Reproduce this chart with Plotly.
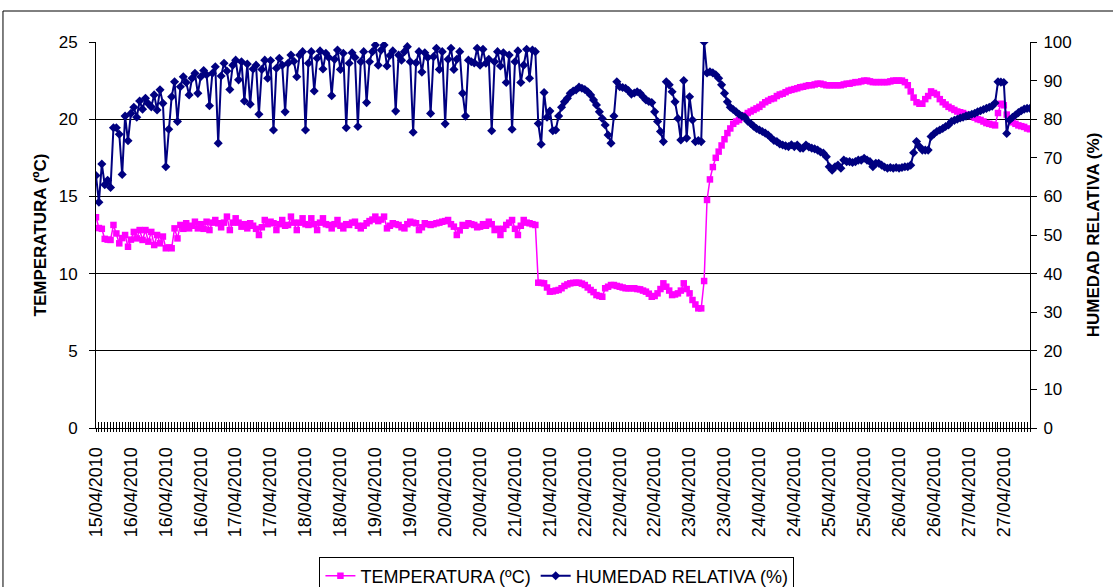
import plotly.graph_objects as go

# ---------------- data ----------------
date_labels = ["15/04/2010", "16/04/2010", "16/04/2010", "16/04/2010", "17/04/2010",
               "17/04/2010", "18/04/2010", "18/04/2010", "19/04/2010", "19/04/2010",
               "20/04/2010", "20/04/2010", "21/04/2010", "21/04/2010", "22/04/2010",
               "22/04/2010", "22/04/2010", "23/04/2010", "23/04/2010", "24/04/2010",
               "24/04/2010", "25/04/2010", "25/04/2010", "26/04/2010", "26/04/2010",
               "27/04/2010", "27/04/2010"]
label_step = 12

temperatura = [
    13.65, 12.95, 12.9, 12.25, 12.2, 12.18, 13.15, 12.6, 11.96, 12.3,
    12.5, 11.74, 12.2, 12.7, 12.28, 12.82, 12.18, 12.82, 12.07, 12.7,
    11.85, 12.5, 11.96, 12.4, 11.64, 11.7, 11.64, 12.93, 12.28, 13.15,
    12.9, 13.26, 12.93, 13.1, 13.36, 12.93, 13.2, 12.9, 13.36, 12.82,
    13.3, 13.47, 13.26, 13.0, 13.3, 13.69, 12.82, 13.3, 13.58, 13.3,
    13.04, 13.2, 12.93, 13.26, 13.1, 12.9, 12.5, 13.0, 13.47, 13.2,
    13.36, 13.26, 12.82, 13.2, 13.47, 13.1, 13.15, 13.69, 13.3, 12.82,
    13.3, 13.58, 13.2, 13.15, 13.58, 13.2, 12.82, 13.3, 13.58, 13.2,
    13.15, 12.93, 13.2, 13.47, 13.1, 12.93, 13.2, 13.15, 13.3, 13.36,
    13.1, 12.93, 13.1, 13.26, 13.4, 13.5, 13.69, 13.4, 13.5, 13.69,
    12.93, 13.1, 13.26, 13.2, 13.15, 13.0, 12.93, 13.2, 13.36, 13.3,
    13.26, 12.82, 13.0, 13.26, 13.2, 13.15, 13.2, 13.26, 13.3, 13.36,
    13.4, 13.47, 13.2, 13.04, 12.5, 12.8, 13.15, 13.1, 13.26, 13.2,
    13.15, 13.0, 13.04, 13.2, 13.1, 13.36, 13.2, 12.82, 12.9, 12.5,
    12.9, 13.15, 13.3, 13.47, 12.9, 12.5, 13.1, 13.47, 13.3, 13.26,
    13.2, 13.15, 9.41, 9.4, 9.37, 9.1, 8.83, 8.85, 8.9, 8.94,
    9.05, 9.2, 9.3, 9.37, 9.4, 9.41, 9.41, 9.35, 9.26, 9.1,
    8.94, 8.8, 8.61, 8.55, 8.5, 9.05, 9.15, 9.26, 9.26, 9.2,
    9.15, 9.1, 9.05, 9.05, 9.05, 9.05, 9.0, 8.98, 8.9, 8.83,
    8.7, 8.5, 8.55, 8.72, 9.0, 9.37, 9.15, 8.9, 8.61, 8.65,
    8.72, 8.9, 9.37, 9.0, 8.72, 8.29, 8.0, 7.75, 7.75, 9.52,
    14.77, 16.1, 16.9, 17.5, 17.9, 18.3, 18.7, 19.1, 19.4, 19.7,
    19.85, 19.95, 20.1, 20.25, 20.4, 20.5, 20.6, 20.7, 20.8, 20.95,
    21.1, 21.2, 21.3, 21.35, 21.5, 21.6, 21.65, 21.75, 21.85, 21.9,
    21.95, 22.0, 22.07, 22.1, 22.15, 22.2, 22.2, 22.25, 22.3, 22.3,
    22.25, 22.2, 22.2, 22.2, 22.2, 22.2, 22.2, 22.25, 22.3, 22.3,
    22.35, 22.4, 22.4, 22.45, 22.5, 22.5, 22.45, 22.4, 22.4, 22.4,
    22.4, 22.4, 22.4, 22.45, 22.5, 22.5, 22.5, 22.5, 22.4, 22.2,
    21.8, 21.4, 21.1, 21.0, 21.0, 21.3, 21.5, 21.8, 21.7, 21.6,
    21.3, 21.1, 20.95, 20.8, 20.7, 20.6, 20.5, 20.45, 20.4, 20.3,
    20.25, 20.2, 20.1, 20.0, 19.95, 19.85, 19.75, 19.7, 19.65, 19.6,
    20.4, 21.0, 20.9, 20.3, 20.0, 19.8, 19.7, 19.6, 19.55, 19.5,
    19.4, 19.35,
]

humedad = [
    65.4, 58.5, 68.4, 63.0, 64.2, 62.3, 77.8, 77.8, 76.1, 65.7,
    80.8, 74.4, 81.5, 83.1, 80.5, 84.7, 82.6, 85.4, 84.0, 83.2,
    86.3, 82.4, 87.6, 84.1, 67.7, 77.4, 85.8, 89.7, 79.4, 88.4,
    91.0, 89.5, 86.3, 90.6, 91.9, 86.7, 91.0, 92.6, 91.5, 83.5,
    91.9, 93.6, 73.8, 91.2, 94.5, 92.5, 87.7, 94.0, 95.3, 90.2,
    94.9, 84.7, 94.3, 83.9, 93.0, 94.0, 81.3, 92.9, 95.3, 90.6,
    95.2, 77.2, 93.2, 95.8, 94.0, 81.9, 94.5, 96.6, 95.0, 91.0,
    96.6, 97.5, 77.2, 94.5, 97.5, 87.3, 95.8, 97.7, 93.0, 97.1,
    96.0, 86.1, 95.5, 97.9, 92.9, 97.1, 77.8, 94.5, 97.2, 96.0,
    78.1, 94.9, 97.5, 84.3, 94.9, 97.5, 99.2, 94.0, 97.9, 99.2,
    93.8, 96.5, 97.7, 82.1, 96.6, 95.3, 97.5, 98.8, 94.9, 76.6,
    94.6, 97.5, 92.2, 97.2, 96.0, 81.5, 96.2, 98.4, 92.9, 97.5,
    78.8, 95.5, 98.4, 92.9, 95.5, 97.5, 86.7, 80.8, 95.3, 94.9,
    94.6, 98.4, 94.0, 98.1, 94.5, 95.5, 77.0, 94.9, 97.5, 93.8,
    97.2, 89.5, 96.6, 77.4, 94.9, 97.7, 89.5, 94.0, 98.1, 90.6,
    97.9, 97.5, 78.9, 73.5, 86.9, 80.5, 82.1, 77.0, 77.2, 80.8,
    83.1, 84.5, 85.4, 86.7, 87.3, 87.6, 88.3, 88.0, 87.7, 87.1,
    86.3, 85.0, 83.7, 81.9, 80.2, 78.5, 75.9, 73.8, 80.8, 89.7,
    88.4, 88.2, 88.0, 87.4, 86.5, 86.8, 87.1, 86.7, 85.8, 85.0,
    84.6, 84.3, 81.9, 79.4, 76.8, 74.2, 89.7, 88.9, 87.1, 84.5,
    80.2, 74.6, 90.0, 75.1, 85.8, 79.8, 74.2, 74.5, 74.2, 100.0,
    92.0, 92.3, 92.0, 91.5, 90.6, 88.9, 86.7, 84.5, 83.1, 82.5,
    81.9, 81.3, 80.8, 80.5, 79.5, 78.9, 78.2, 77.6, 77.2, 76.8,
    76.4, 75.9, 75.2, 74.5, 74.2, 73.6, 73.3, 73.1, 72.9, 73.4,
    72.9, 73.3, 72.5, 72.5, 73.3, 72.8, 72.5, 72.3, 72.0, 71.5,
    71.2, 70.3, 67.7, 66.8, 67.7, 68.1, 67.3, 69.4, 69.0, 69.0,
    68.8, 69.0, 69.4, 69.4, 69.9, 69.4, 69.0, 67.7, 68.6, 68.6,
    68.1, 67.6, 67.3, 67.5, 67.3, 67.5, 67.3, 67.5, 67.7, 67.7,
    68.1, 71.3, 74.2, 72.9, 72.0, 72.0, 72.0, 75.5, 76.2, 76.8,
    77.2, 77.6, 78.1, 78.5, 79.4, 79.7, 80.0, 80.3, 80.5, 80.8,
    81.0, 81.3, 81.5, 81.9, 82.2, 82.5, 82.8, 83.1, 83.4, 84.2,
    89.7, 89.6, 89.5, 76.3, 79.8, 80.5, 81.1, 81.7, 82.2, 82.6,
    82.8, 82.8,
]

# ---------------- build figure ----------------
n = len(humedad)
x = list(range(n))
ticktext = [date_labels[i // label_step] if (i % label_step == 0 and i // label_step < len(date_labels)) else ""
            for i in x]

FONT = "Arial, Liberation Sans, sans-serif"
MAGENTA = "#FF00FF"
NAVY = "#000080"

fig = go.Figure()
fig.add_trace(go.Scatter(
    x=x, y=temperatura, name="TEMPERATURA (ºC)", mode="lines+markers",
    line=dict(color=MAGENTA, width=1.5),
    marker=dict(symbol="square", size=6.5, color=MAGENTA),
    xaxis="x", yaxis="y",
))
fig.add_trace(go.Scatter(
    x=x, y=humedad, name="HUMEDAD RELATIVA (%)", mode="lines+markers",
    line=dict(color=NAVY, width=2),
    marker=dict(symbol="diamond", size=7, color=NAVY),
    xaxis="x2", yaxis="y2",
))

xr = [0, n - 1]
fig.update_layout(
    width=1113, height=587, autosize=False,
    margin=dict(l=96, r=83, t=42, b=159, autoexpand=False),
    paper_bgcolor="white", plot_bgcolor="white",
    font=dict(family=FONT, size=17, color="black"),
    showlegend=True,
    legend=dict(orientation="h", x=0.4935, xanchor="center", y=-0.333, yanchor="top",
                bordercolor="black", borderwidth=1, bgcolor="white",
                font=dict(family=FONT, size=18, color="black")),
    xaxis=dict(range=xr, tickmode="array", tickvals=x, ticktext=ticktext, automargin=False,
               tickangle=-90, ticks="outside", ticklen=3, tickcolor="black", tickwidth=1,
               ticklabelstandoff=8,
               showline=True, linecolor="black", linewidth=1, showgrid=False, zeroline=False,
               tickfont=dict(family=FONT, size=18, color="black")),
    xaxis2=dict(range=xr, overlaying="x", anchor="y2", side="bottom", tickmode="array",
                tickvals=x, ticks="inside", ticklen=6, tickcolor="black", tickwidth=1,
                automargin=False,
                showticklabels=False, showline=False, showgrid=False, zeroline=False),
    yaxis=dict(range=[0, 25], tickmode="linear", tick0=0, dtick=5, automargin=False,
               ticks="outside", ticklen=6, tickcolor="black", ticklabelstandoff=8,
               showline=True, linecolor="black", linewidth=1,
               showgrid=True, gridcolor="black", gridwidth=1, zeroline=False,
               tickfont=dict(family=FONT, size=17, color="black"),
               title=dict(text="<b>TEMPERATURA (ºC)</b>", standoff=7,
                          font=dict(family=FONT, size=17, color="black"))),
    yaxis2=dict(range=[0, 100], tickmode="linear", tick0=0, dtick=10, overlaying="y",
                side="right", anchor="x", automargin=False,
                ticks="outside", ticklen=6, tickcolor="black", ticklabelstandoff=3,
                showline=True, linecolor="black", linewidth=1,
                showgrid=False, zeroline=False,
                tickfont=dict(family=FONT, size=17, color="black"),
                title=dict(text="<b>HUMEDAD RELATIVA (%)</b>", standoff=16,
                           font=dict(family=FONT, size=17, color="black"))),
    yaxis3=dict(range=[0, 100], tickmode="linear", tick0=0, dtick=10, overlaying="y",
                side="right", anchor="x", ticks="inside", ticklen=6, tickcolor="black",
                automargin=False,
                showticklabels=False, showline=False, showgrid=False, zeroline=False),
    shapes=[dict(type="rect", xref="paper", yref="paper",
                 x0=-0.0996, x1=1.3, y0=-0.6, y1=1.0803,
                 line=dict(color="black", width=1), fillcolor="rgba(0,0,0,0)", layer="below")],
)

fig.write_html("out.html", config={"displayModeBar": False},
               post_script="document.body.style.margin='0';document.body.style.padding='0';")
